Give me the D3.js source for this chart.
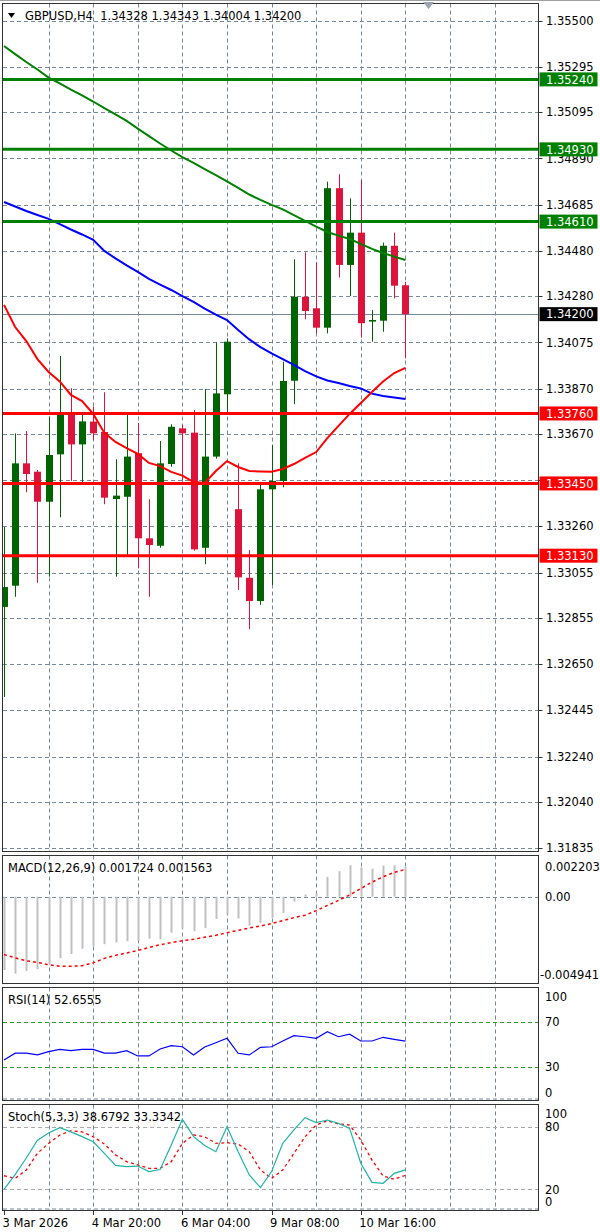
<!DOCTYPE html>
<html>
<head>
<meta charset="utf-8">
<script src="https://cdn.jsdelivr.net/npm/d3@7"></script>
<style>
  html, body { margin: 0; padding: 0; background: #fff; }
  svg { display: block; }
  text { font-family: "DejaVu Sans", sans-serif; font-size: 11.5px; }
</style>
</head>
<body>
<svg id="chart" width="600" height="1232"></svg>
<script>
// GBPUSD H4 candles
const opens  = [1.32903,1.32997,1.33539,1.33502,1.33369,1.33579,1.33761,1.33623,1.33724,1.33678,1.33381,1.33391,1.33584,1.33207,1.33174,1.33536,1.33694,1.33675,1.33165,1.33569,1.33845,1.33336,1.33032,1.32929,1.33424,1.33461,1.33905,1.34277,1.34226,1.34140,1.34758,1.34418,1.34561,1.34167,1.34171,1.34503,1.34328];
const highs  = [1.33257,1.33672,1.33682,1.33510,1.33746,1.34015,1.33872,1.33756,1.33790,1.33854,1.33557,1.33753,1.33718,1.33380,1.33638,1.33712,1.33709,1.33775,1.33868,1.34075,1.34093,1.33539,1.33155,1.33451,1.33620,1.33989,1.34443,1.34474,1.34430,1.34787,1.34820,1.34713,1.34794,1.34218,1.34517,1.34561,1.34343];
const lows   = [1.32504,1.32948,1.33411,1.33010,1.33037,1.33300,1.33461,1.33446,1.33643,1.33358,1.33037,1.33126,1.33074,1.32948,1.33165,1.33524,1.33465,1.33152,1.33092,1.33560,1.33768,1.32978,1.32804,1.32912,1.33000,1.33433,1.33801,1.34177,1.34115,1.34115,1.34362,1.34280,1.34096,1.34078,1.34122,1.34270,1.34004];
const closes = [1.32991,1.33539,1.33492,1.33369,1.33576,1.33761,1.33623,1.33725,1.33672,1.33387,1.33396,1.33569,1.33207,1.33177,1.33539,1.33701,1.33672,1.33158,1.33569,1.33849,1.34078,1.33034,1.32929,1.33424,1.33461,1.33904,1.34277,1.34214,1.34140,1.34758,1.34418,1.34561,1.34160,1.34174,1.34503,1.34326,1.34200];

// moving averages
const maGreen = [1.35388,1.35352,1.35317,1.35284,1.35248,1.35222,1.35195,1.35169,1.35142,1.35113,1.35085,1.35056,1.35022,1.34989,1.34956,1.34925,1.34896,1.34870,1.34843,1.34816,1.34788,1.34759,1.34730,1.34706,1.34684,1.34664,1.34639,1.34613,1.34588,1.34564,1.34548,1.34533,1.34511,1.34489,1.34471,1.34455,1.34440];
const maBlue  = [1.34697,1.34677,1.34657,1.34639,1.34622,1.34599,1.34575,1.34553,1.34529,1.34480,1.34447,1.34416,1.34387,1.34356,1.34331,1.34307,1.34280,1.34254,1.34225,1.34198,1.34174,1.34130,1.34088,1.34054,1.34026,1.34001,1.33975,1.33948,1.33924,1.33906,1.33895,1.33882,1.33871,1.33848,1.33837,1.33831,1.33824];
const maRed   = [1.34241,1.34143,1.34081,1.34001,1.33944,1.33902,1.33842,1.33815,1.33758,1.33674,1.33634,1.33607,1.33581,1.33541,1.33527,1.33501,1.33485,1.33456,1.33452,1.33505,1.33549,1.33523,1.33505,1.33503,1.33502,1.33514,1.33536,1.33563,1.33589,1.33651,1.33705,1.33758,1.33806,1.33855,1.33902,1.33939,1.33962];

const greenLevels = [1.3524, 1.3493, 1.3461];
const redLevels = [1.3376, 1.3345, 1.3313];
const lastPrice = 1.342;
const priceTicks = [1.35500,1.35295,1.35095,1.34890,1.34685,1.34480,1.34280,1.34075,1.33870,1.33670,1.33465,1.33260,1.33055,1.32855,1.32650,1.32445,1.32240,1.32040,1.31835];

// MACD(12,26,9)
const macd = [-0.00420,-0.00440,-0.00425,-0.00415,-0.00385,-0.00352,-0.00328,-0.00298,-0.00283,-0.00272,-0.00262,-0.00255,-0.00252,-0.00240,-0.00244,-0.00206,-0.00183,-0.00197,-0.00180,-0.00128,-0.00100,-0.00125,-0.00165,-0.00150,-0.00122,-0.00093,-0.00028,0.00013,0.00019,0.00113,0.00146,0.00180,0.00168,0.00160,0.00178,0.00180,0.001724];
const macdSignal = [-0.00331,-0.00350,-0.00367,-0.00376,-0.00390,-0.00398,-0.00398,-0.00395,-0.00379,-0.00353,-0.00336,-0.00322,-0.00308,-0.00291,-0.00275,-0.00263,-0.00252,-0.00244,-0.00232,-0.00221,-0.00206,-0.00193,-0.00179,-0.00168,-0.00154,-0.00137,-0.00120,-0.00106,-0.00080,-0.00050,-0.00021,0.00010,0.00046,0.00083,0.00114,0.00139,0.001563];

// RSI(14)
const rsi = [36,42,42,40.5,43.3,45.4,44.2,45.4,45.4,42,42,44.2,39.5,39.5,45.7,48.6,47.7,40.4,47.5,51.3,55.2,41.9,40.4,47.2,47.7,52.8,57.5,56.6,55.2,61.1,56.6,58.8,52.8,52.8,56.1,54.3,52.6555];

// Stoch(5,3,3)
const stochK = [20,34,50,67,74,79,75,70.5,65.5,54.5,43,41.7,42.3,37,39,62.5,87,70.5,62,56,80,56,33.7,21.6,37,64,77,88.6,84,86.4,83.2,78.4,45,26.7,25.8,35.3,38.6792];
const stochD = [33,30.5,38.5,54.5,64,72,76,75,70.4,63.4,53,46.5,43.3,40.1,40.1,46.5,64,72,70.4,64,64.7,63.4,56,38.5,30.5,38.5,54.5,70.4,81.6,85.7,82.6,81.6,67.2,48.1,32.8,29.6,33.3342];

const dateLabels = ["3 Mar 2026", "4 Mar 20:00", "6 Mar 04:00", "9 Mar 08:00", "10 Mar 16:00"];
const dateIndex = [0, 8, 16, 24, 32];

const svg = d3.select("#chart");
const gridColor = "#778899";
const axisX = 538.5;

const panels = {
  main:  { top: 3.5,    bottom: 851.5 },
  macd:  { top: 855.5,  bottom: 983.5 },
  rsi:   { top: 987.5,  bottom: 1100.5 },
  stoch: { top: 1104.5, bottom: 1210.5 }
};

const x = d3.scaleLinear().domain([0, 48]).range([4, 539.2]);
const y = d3.scaleLinear().domain([1.31835, 1.355]).range([848, 20.7]);
const yM = d3.scaleLinear().domain([-0.004941, 0.002203]).range([983, 858.2]);
const yR = d3.scaleLinear().domain([0, 100]).range([1100.4, 987.9]);
const yS = d3.scaleLinear().domain([0, 100]).range([1210.2, 1105.8]);

const px = i => Math.round(x(i)) + 0.5;

svg.append("line").attr("x1", 0).attr("x2", 600).attr("y1", 0.5).attr("y2", 0.5)
  .attr("stroke", "#a0a0a0");

// clip paths per panel
const defs = svg.append("defs");
Object.entries(panels).forEach(([k, p]) => {
  defs.append("clipPath").attr("id", "clip-" + k).append("rect")
    .attr("x", 3).attr("y", p.top + 0.5).attr("width", axisX - 3.5).attr("height", p.bottom - p.top - 1);
});

// vertical grid in every panel
Object.values(panels).forEach(p => {
  svg.append("g").selectAll("line").data(d3.range(4, 48, 4)).enter().append("line")
    .attr("x1", d => px(d)).attr("x2", d => px(d))
    .attr("y1", p.top).attr("y2", p.bottom)
    .attr("stroke", gridColor).attr("stroke-dasharray", "4,3");
});

// ---------- main panel ----------
const gMain = svg.append("g").attr("clip-path", "url(#clip-main)");

gMain.append("g").selectAll("line").data(priceTicks).enter().append("line")
  .attr("x1", 3).attr("x2", axisX)
  .attr("y1", d => Math.round(y(d)) + 0.5).attr("y2", d => Math.round(y(d)) + 0.5)
  .attr("stroke", gridColor).attr("stroke-dasharray", "4,3");

gMain.append("line").attr("x1", 3).attr("x2", axisX)
  .attr("y1", Math.round(y(lastPrice)) + 0.5).attr("y2", Math.round(y(lastPrice)) + 0.5)
  .attr("stroke", gridColor);

const candle = gMain.append("g").selectAll("g").data(opens).enter().append("g");
const colorOf = i => closes[i] >= opens[i] ? "#006400" : "#dc143c";
candle.append("line")
  .attr("x1", (d, i) => px(i)).attr("x2", (d, i) => px(i))
  .attr("y1", (d, i) => y(highs[i])).attr("y2", (d, i) => y(lows[i]))
  .attr("stroke", (d, i) => colorOf(i));
candle.append("rect")
  .attr("x", (d, i) => px(i) - 3.5).attr("width", 7)
  .attr("y", (d, i) => y(Math.max(opens[i], closes[i])))
  .attr("height", (d, i) => Math.max(1.5, Math.abs(y(opens[i]) - y(closes[i]))))
  .attr("fill", (d, i) => colorOf(i));

const maLine = d3.line().x((d, i) => x(i)).y(d => y(d));
[[maGreen, "#008000"], [maBlue, "#0000ff"], [maRed, "#ff0000"]].forEach(([s, c]) => {
  gMain.append("path").datum(s).attr("d", maLine)
    .attr("fill", "none").attr("stroke", c).attr("stroke-width", 2);
});

gMain.append("g").selectAll("line").data(greenLevels.concat(redLevels)).enter().append("line")
  .attr("x1", 3).attr("x2", axisX)
  .attr("y1", d => y(d)).attr("y2", d => y(d))
  .attr("stroke", d => greenLevels.includes(d) ? "#008000" : "#ff0000")
  .attr("stroke-width", 3);

// ---------- MACD ----------
const gMacd = svg.append("g").attr("clip-path", "url(#clip-macd)");
gMacd.append("line").attr("x1", 3).attr("x2", axisX)
  .attr("y1", Math.round(yM(0)) + 0.5).attr("y2", Math.round(yM(0)) + 0.5)
  .attr("stroke", gridColor).attr("stroke-dasharray", "4,3");
gMacd.append("g").selectAll("line").data(macd).enter().append("line")
  .attr("x1", (d, i) => px(i)).attr("x2", (d, i) => px(i))
  .attr("y1", yM(0)).attr("y2", d => yM(d))
  .attr("stroke", "#c0c0c0").attr("stroke-width", 2);
gMacd.append("path").datum(macdSignal)
  .attr("d", d3.line().x((d, i) => x(i)).y(d => yM(d)))
  .attr("fill", "none").attr("stroke", "#ff0000").attr("stroke-width", 1.5).attr("stroke-dasharray", "3,3");

// ---------- RSI ----------
const gRsi = svg.append("g").attr("clip-path", "url(#clip-rsi)");
gRsi.append("g").selectAll("line").data([70, 30]).enter().append("line")
  .attr("x1", 3).attr("x2", axisX)
  .attr("y1", d => Math.round(yR(d)) + 0.5).attr("y2", d => Math.round(yR(d)) + 0.5)
  .attr("stroke", "#2e9a2e").attr("stroke-dasharray", "4,3");
gRsi.append("line").attr("x1", 3).attr("x2", axisX).attr("y1", 1099).attr("y2", 1099)
  .attr("stroke", gridColor).attr("stroke-dasharray", "4,3");
gRsi.append("path").datum(rsi)
  .attr("d", d3.line().x((d, i) => x(i)).y(d => yR(d)))
  .attr("fill", "none").attr("stroke", "#0000ff").attr("stroke-width", 1.2);

// ---------- Stochastic ----------
const gSto = svg.append("g").attr("clip-path", "url(#clip-stoch)");
gSto.append("g").selectAll("line").data([80, 20]).enter().append("line")
  .attr("x1", 3).attr("x2", axisX)
  .attr("y1", d => Math.round(yS(d)) + 0.5).attr("y2", d => Math.round(yS(d)) + 0.5)
  .attr("stroke", "#a9a9a9").attr("stroke-dasharray", "4,3");
gSto.append("line").attr("x1", 3).attr("x2", axisX).attr("y1", 1209).attr("y2", 1209)
  .attr("stroke", gridColor).attr("stroke-dasharray", "4,3");
gSto.append("path").datum(stochD)
  .attr("d", d3.line().x((d, i) => x(i)).y(d => yS(d)))
  .attr("fill", "none").attr("stroke", "#ff0000").attr("stroke-width", 1.3).attr("stroke-dasharray", "3,3");
gSto.append("path").datum(stochK)
  .attr("d", d3.line().x((d, i) => x(i)).y(d => yS(d)))
  .attr("fill", "none").attr("stroke", "#20b2aa").attr("stroke-width", 1.2);

// panel borders
Object.values(panels).forEach(p => {
  svg.append("rect").attr("x", 2.5).attr("y", p.top).attr("width", axisX - 2.5).attr("height", p.bottom - p.top)
    .attr("fill", "none").attr("stroke", "#333");
});

// ---------- right axis, main ----------
const boxes = greenLevels.map(v => [v, "#008000"])
  .concat([[lastPrice, "#000"]])
  .concat(redLevels.map(v => [v, "#ff0000"]));
// a tick label fully under a level box is not drawn (as in the terminal)
const hidden = d => boxes.some(b => Math.abs(y(b[0]) - y(d)) < 4);

const axisG = svg.append("g");
axisG.selectAll("line").data(priceTicks).enter().append("line")
  .attr("x1", axisX).attr("x2", axisX + 4)
  .attr("y1", d => Math.round(y(d)) + 0.5).attr("y2", d => Math.round(y(d)) + 0.5)
  .attr("stroke", "#333");
axisG.selectAll("text").data(priceTicks.filter(d => !hidden(d))).enter().append("text")
  .attr("x", 546).attr("y", d => y(d)).attr("dy", "0.36em")
  .attr("fill", "#000").text(d => d.toFixed(5));

const box = svg.append("g").selectAll("g").data(boxes).enter().append("g");
box.append("rect").attr("x", 539.5).attr("width", 58)
  .attr("y", d => y(d[0]) - 7).attr("height", 14).attr("fill", d => d[1]);
box.append("text").attr("x", 546).attr("y", d => y(d[0])).attr("dy", "0.36em")
  .attr("fill", "#fff").text(d => d[0].toFixed(5));

// indicator axis labels
const sideLabels = [
  ["0.002203", 545, 867], ["0.00", 545, 897], ["-0.004941", 540, 975],
  ["100", 545, 997], ["70", 545, 1022], ["30", 545, 1067], ["0", 545, 1093],
  ["100", 545, 1114], ["80", 545, 1127], ["20", 545, 1190], ["0", 545, 1202]
];
svg.append("g").selectAll("text").data(sideLabels).enter().append("text")
  .attr("x", d => d[1]).attr("y", d => d[2]).attr("dy", "0.36em").text(d => d[0]);

// panel titles
const titles = [
  ["GBPUSD,H4  1.34328 1.34343 1.34004 1.34200", 25, 16],
  ["MACD(12,26,9) 0.001724 0.001563", 8, 868],
  ["RSI(14) 52.6555", 8, 1000],
  ["Stoch(5,3,3) 38.6792 33.3342", 8, 1117]
];
svg.append("g").selectAll("text").data(titles).enter().append("text")
  .attr("x", d => d[1]).attr("y", d => d[2]).attr("dy", "0.36em")
  .attr("xml:space", "preserve").style("white-space", "pre").text(d => d[0]);
svg.append("path").attr("d", "M8,13L15,13L11.5,18Z").attr("fill", "#000");
svg.append("path").attr("d", "M423,2L434,2L428.5,9Z").attr("fill", "#9aa5b1");

// time axis
const timeG = svg.append("g").selectAll("g").data(dateIndex).enter().append("g");
timeG.append("line").attr("x1", d => px(d)).attr("x2", d => px(d))
  .attr("y1", 1210.5).attr("y2", 1215).attr("stroke", "#333");
timeG.append("text").attr("x", d => x(d) - 1.5).attr("y", 1223).attr("dy", "0.36em")
  .text((d, i) => dateLabels[i]);
</script>
</body>
</html>
